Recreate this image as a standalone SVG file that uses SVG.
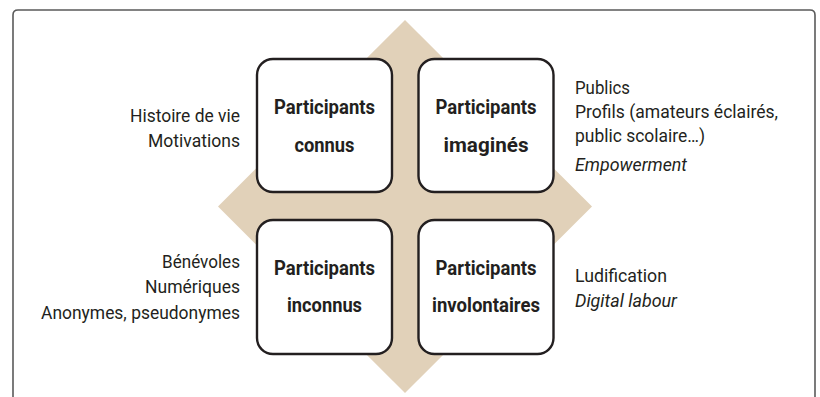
<svg xmlns="http://www.w3.org/2000/svg" width="820" height="397" viewBox="0 0 820 397">
  <style>
    .frame { fill: none; stroke: #5a5a5a; stroke-width: 1.6; }
    .axis { fill: #e1d1b9; }
    .box rect { fill: #ffffff; stroke: #231f20; stroke-width: 2.4; }
    .title { font-family: Roboto, "Liberation Sans", sans-serif; font-weight: bold; font-size: 20.5px; fill: #231f20; text-anchor: middle; }
    .note { font-family: Roboto, "Liberation Sans", sans-serif; font-size: 18.5px; fill: #231f20; }
    .left { text-anchor: end; }
    .em { font-style: italic; }
  </style>

  <!-- outer frame, open at the bottom -->
  <path class="frame" d="M13,397 V15 Q13,10 18,10 H810 Q815,10 815,15 V397"/>

  <!-- background diamond -->
  <polygon class="axis" points="405,20 592,206.5 405,393 218,206.5"/>

  <g id="connus" class="box">
    <rect x="257" y="59" width="135" height="133" rx="16"/>
    <text class="title" x="324.5" y="113.5" textLength="101" lengthAdjust="spacingAndGlyphs">Participants</text>
    <text class="title" x="324.5" y="152" textLength="60" lengthAdjust="spacingAndGlyphs">connus</text>
  </g>

  <g id="imagines" class="box">
    <rect x="418.5" y="59" width="135" height="133" rx="16"/>
    <text class="title" x="486" y="113.5" textLength="101" lengthAdjust="spacingAndGlyphs">Participants</text>
    <text class="title" x="486" y="152" textLength="85" lengthAdjust="spacingAndGlyphs">imaginés</text>
  </g>

  <g id="inconnus" class="box">
    <rect x="257" y="220" width="135" height="134" rx="16"/>
    <text class="title" x="324.5" y="275" textLength="101" lengthAdjust="spacingAndGlyphs">Participants</text>
    <text class="title" x="324.5" y="312" textLength="75" lengthAdjust="spacingAndGlyphs">inconnus</text>
  </g>

  <g id="involontaires" class="box">
    <rect x="418.5" y="220" width="135" height="134" rx="16"/>
    <text class="title" x="486" y="275" textLength="101" lengthAdjust="spacingAndGlyphs">Participants</text>
    <text class="title" x="486" y="312" textLength="108" lengthAdjust="spacingAndGlyphs">involontaires</text>
  </g>

  <!-- side notes -->
  <g id="notes-connus">
    <text class="note left" x="240" y="122" textLength="110" lengthAdjust="spacingAndGlyphs">Histoire de vie</text>
    <text class="note left" x="240" y="146.5" textLength="92" lengthAdjust="spacingAndGlyphs">Motivations</text>
  </g>
  <g id="notes-imagines">
    <text class="note" x="575" y="94" textLength="55" lengthAdjust="spacingAndGlyphs">Publics</text>
    <text class="note" x="575" y="118" textLength="203" lengthAdjust="spacingAndGlyphs">Profils (amateurs éclairés,</text>
    <text class="note" x="575" y="142" textLength="130" lengthAdjust="spacingAndGlyphs">public scolaire…)</text>
    <text class="note em" x="575" y="171" textLength="112" lengthAdjust="spacingAndGlyphs">Empowerment</text>
  </g>
  <g id="notes-inconnus">
    <text class="note left" x="240" y="268" textLength="78" lengthAdjust="spacingAndGlyphs">Bénévoles</text>
    <text class="note left" x="240" y="293" textLength="95" lengthAdjust="spacingAndGlyphs">Numériques</text>
    <text class="note left" x="240" y="318.5" textLength="199" lengthAdjust="spacingAndGlyphs">Anonymes, pseudonymes</text>
  </g>
  <g id="notes-involontaires">
    <text class="note" x="575" y="282" textLength="92" lengthAdjust="spacingAndGlyphs">Ludification</text>
    <text class="note em" x="575" y="307" textLength="102" lengthAdjust="spacingAndGlyphs">Digital labour</text>
  </g>
</svg>
